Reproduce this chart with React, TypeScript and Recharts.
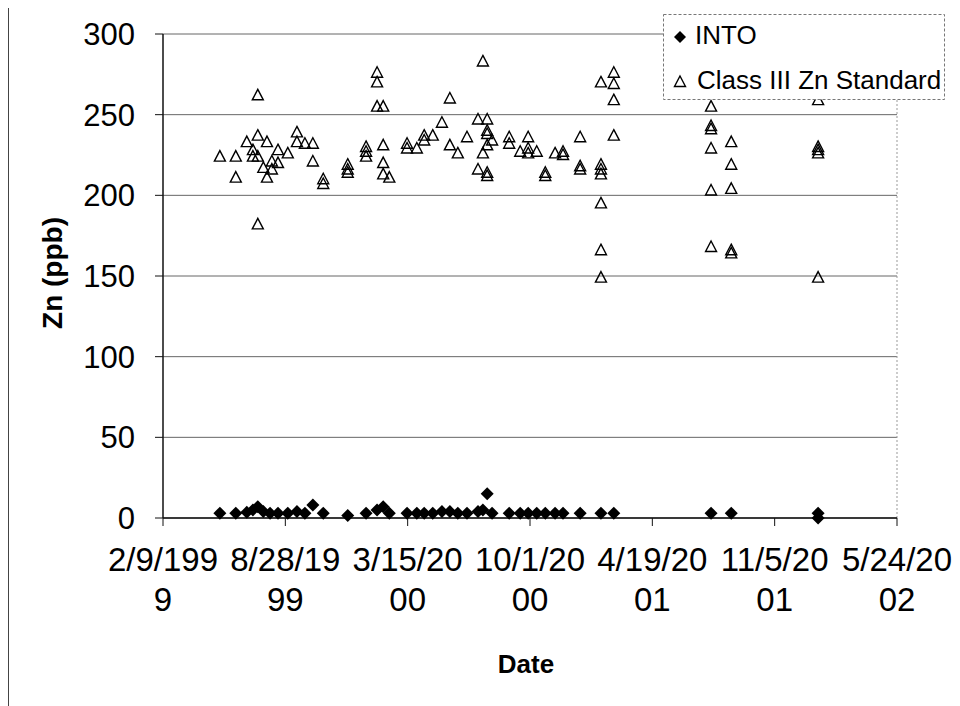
import { ScatterChart, Scatter, XAxis, YAxis, CartesianGrid, ReferenceLine, Legend } from "recharts"

// sample dates and zinc readings (ppb)
const intoDates = [
  "1999-05-13", "1999-06-08", "1999-06-26", "1999-07-06", "1999-07-14", "1999-07-23",
  "1999-08-03", "1999-08-16", "1999-09-01", "1999-09-16", "1999-09-29", "1999-10-12",
  "1999-10-29", "1999-12-08", "2000-01-07", "2000-01-25", "2000-02-04", "2000-02-14",
  "2000-03-14", "2000-03-30", "2000-04-11", "2000-04-25", "2000-05-10", "2000-05-23",
  "2000-06-05", "2000-06-20", "2000-07-08", "2000-07-16", "2000-07-23", "2000-07-31",
  "2000-08-28", "2000-09-15", "2000-09-28", "2000-10-12", "2000-10-26", "2000-11-11",
  "2000-11-24", "2000-12-22", "2001-01-25", "2001-02-15", "2001-07-24", "2001-08-26",
  "2002-01-15", "2002-01-15",
]
const intoValues = [
  3, 3, 3.5, 5, 7, 4,
  3, 3, 3, 4, 3, 8,
  3, 1.5, 3, 5, 7, 3,
  3, 3, 3, 3, 4, 4,
  3, 3, 4, 5, 15, 3,
  3, 3, 3, 3, 3, 3,
  3, 3, 3, 3, 3, 3,
  3, 0,
]

const standardDates = [
  "1999-05-13", "1999-06-08", "1999-06-08", "1999-06-26", "1999-07-06", "1999-07-06",
  "1999-07-14", "1999-07-14", "1999-07-14", "1999-07-14", "1999-07-23", "1999-07-29",
  "1999-07-29", "1999-08-06", "1999-08-06", "1999-08-16", "1999-08-16", "1999-09-01",
  "1999-09-16", "1999-09-16", "1999-09-29", "1999-10-12", "1999-10-12", "1999-10-29",
  "1999-10-29", "1999-12-08", "1999-12-08", "1999-12-08", "2000-01-07", "2000-01-07",
  "2000-01-07", "2000-01-25", "2000-01-25", "2000-01-25", "2000-02-04", "2000-02-04",
  "2000-02-04", "2000-02-04", "2000-02-14", "2000-03-14", "2000-03-14", "2000-03-30",
  "2000-04-11", "2000-04-11", "2000-04-25", "2000-05-10", "2000-05-23", "2000-05-23",
  "2000-06-05", "2000-06-20", "2000-07-08", "2000-07-08", "2000-07-16", "2000-07-16",
  "2000-07-23", "2000-07-23", "2000-07-23", "2000-07-23", "2000-07-23", "2000-07-23",
  "2000-07-31", "2000-08-28", "2000-08-28", "2000-09-15", "2000-09-28", "2000-09-28",
  "2000-09-28", "2000-10-12", "2000-10-26", "2000-10-26", "2000-11-11", "2000-11-24",
  "2000-11-24", "2000-12-22", "2000-12-22", "2000-12-22", "2001-01-25", "2001-01-25",
  "2001-01-25", "2001-01-25", "2001-01-25", "2001-01-25", "2001-01-25", "2001-02-15",
  "2001-02-15", "2001-02-15", "2001-02-15", "2001-07-24", "2001-07-24", "2001-07-24",
  "2001-07-24", "2001-07-24", "2001-07-24", "2001-08-26", "2001-08-26", "2001-08-26",
  "2001-08-26", "2001-08-26", "2002-01-15", "2002-01-15", "2002-01-15", "2002-01-15",
  "2002-01-15",
]
const standardValues = [
  224, 224, 211, 233, 228, 224,
  237, 262, 182, 224, 217, 233,
  211, 221, 216, 228, 220, 226,
  239, 233, 232, 232, 221, 210,
  207, 219, 216, 214, 230, 227,
  224, 276, 270, 255, 255, 231,
  220, 213, 211, 232, 229, 229,
  237, 234, 237, 245, 260, 231,
  226, 236, 247, 216, 283, 226,
  247, 240, 238, 231, 214, 212,
  234, 236, 232, 227, 236, 229,
  226, 227, 214, 212, 226, 227,
  225, 236, 218, 216, 270, 219,
  216, 213, 195, 166, 149, 276,
  269, 259, 237, 255, 243, 241,
  229, 203, 168, 233, 219, 204,
  166, 164, 259, 230, 228, 226,
  149,
]

const xTickDates = ["1999-02-09", "1999-08-28", "2000-03-15", "2000-10-01", "2001-04-19", "2001-11-05", "2002-05-24"]
const xTickLabels = [
  ["2/9/199", "9"], ["8/28/19", "99"], ["3/15/20", "00"], ["10/1/20", "00"],
  ["4/19/20", "01"], ["11/5/20", "01"], ["5/24/20", "02"],
]
const yTicks = [0, 50, 100, 150, 200, 250, 300]

// spreadsheet-style day number, like the original x axis
const toSerial = (iso: string) => {
  const [y, m, d] = iso.split("-").map(Number)
  return Date.UTC(y, m - 1, d) / 86400000 + 25569
}

const intoData = intoDates.map((d, i) => ({ date: toSerial(d), zn: intoValues[i] }))
const standardData = standardDates.map((d, i) => ({ date: toSerial(d), zn: standardValues[i] }))
const xTicks = xTickDates.map(toSerial)

const FONT = "'Liberation Sans', Arial, sans-serif"

function Diamond({ cx, cy, r = 6.5 }: any) {
  return <polygon points={`${cx},${cy - r} ${cx + r},${cy} ${cx},${cy + r} ${cx - r},${cy}`} fill="#000" />
}

function Triangle({ cx, cy }: any) {
  return (
    <polygon
      points={`${cx},${cy - 6} ${cx + 5.5},${cy + 4.5} ${cx - 5.5},${cy + 4.5}`}
      fill="none"
      stroke="#000"
      strokeWidth={1.4}
    />
  )
}

function DateTick({ x, y, payload }: any) {
  const lines = xTickLabels[xTicks.indexOf(payload.value)] || ["", ""]
  return (
    <text x={x} y={y} textAnchor="middle" fontSize={33} fill="#000" fontFamily={FONT}>
      <tspan x={x} dy="0.71em">{lines[0]}</tspan>
      <tspan x={x} dy={40}>{lines[1]}</tspan>
    </text>
  )
}

function LegendBox() {
  return (
    <svg width={282} height={86} style={{ display: "block" }}>
      <rect x={0.5} y={0.5} width={281} height={85} fill="#fff" stroke="#777" strokeDasharray="3 2" />
      <Diamond cx={17} cy={23} r={6} />
      <text x={32} y={29.5} fontSize={26} fontFamily={FONT} fill="#000">INTO</text>
      <Triangle cx={17} cy={68} />
      <text x={34} y={74.5} fontSize={26} fontFamily={FONT} fill="#000">Class III Zn Standard</text>
    </svg>
  )
}

export default function App() {
  return (
    <div
      style={{
        marginTop: -5,
        width: 951,
        height: 702,
        borderLeft: "1px solid #444",
        borderTop: "1px solid #444",
        fontFamily: FONT,
        background: "#fff",
      }}
    >
      <ScatterChart width={951} height={702} margin={{ top: 30, right: 63, bottom: 88, left: 54 }}>
        <CartesianGrid vertical={false} stroke="#666" />
        <XAxis
          type="number"
          dataKey="date"
          domain={[xTicks[0], xTicks[xTicks.length - 1]]}
          ticks={xTicks}
          interval={0}
          height={100}
          tickSize={8}
          tickMargin={22}
          tick={<DateTick />}
          axisLine={{ stroke: "#111", strokeWidth: 1.5 }}
          tickLine={{ stroke: "#111" }}
          label={{
            content: ({ viewBox }: any) => (
              <text
                x={viewBox.x + viewBox.width / 2 - 4}
                y={viewBox.y + 155}
                textAnchor="middle"
                fontSize={26}
                fontWeight="bold"
                fontFamily={FONT}
                fill="#000"
              >
                Date
              </text>
            ),
          }}
        />
        <YAxis
          type="number"
          dataKey="zn"
          domain={[0, 300]}
          ticks={yTicks}
          interval={0}
          width={100}
          tickSize={8}
          tickMargin={20}
          tick={{ fontSize: 31, fill: "#000", fontFamily: FONT }}
          axisLine={{ stroke: "#111", strokeWidth: 1.5 }}
          tickLine={{ stroke: "#111" }}
          label={{
            content: ({ viewBox }: any) => {
              const cx = viewBox.x - 11
              const cy = viewBox.y + viewBox.height / 2 - 3
              return (
                <text
                  x={cx}
                  y={cy}
                  transform={`rotate(-90, ${cx}, ${cy})`}
                  textAnchor="middle"
                  dominantBaseline="central"
                  fontSize={28}
                  fontWeight="bold"
                  fontFamily={FONT}
                  fill="#000"
                >
                  Zn (ppb)
                </text>
              )
            },
          }}
        />
        <ReferenceLine x={xTicks[xTicks.length - 1]} stroke="#999" strokeDasharray="2 2" />
        <Scatter name="INTO" data={intoData} shape={<Diamond />} isAnimationActive={false} />
        <Scatter name="Class III Zn Standard" data={standardData} shape={<Triangle />} isAnimationActive={false} />
        <Legend
          layout="vertical"
          align="center"
          verticalAlign="middle"
          wrapperStyle={{ left: 654, top: 10, width: 282, height: 86 }}
          content={() => <LegendBox />}
        />
      </ScatterChart>
    </div>
  )
}
